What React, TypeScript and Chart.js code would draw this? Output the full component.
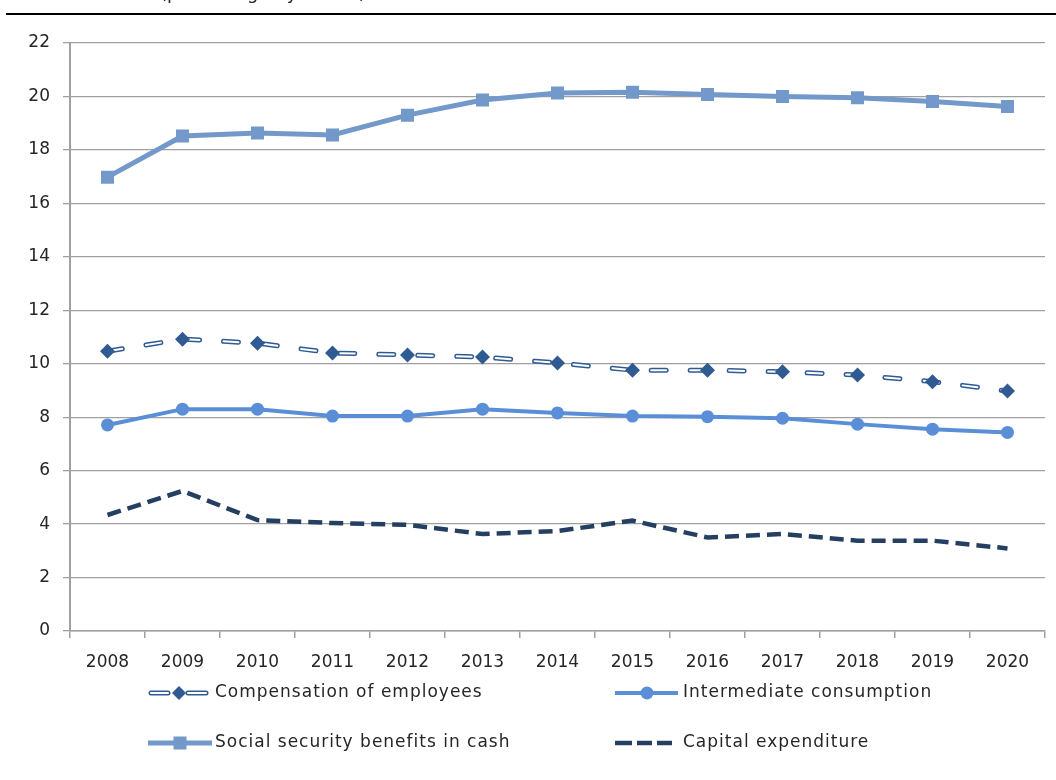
import React, { useEffect, useRef } from "react";
import { Chart, registerables } from "chart.js";

Chart.register(...registerables);

// ---------- data ----------
const years = ["2008", "2009", "2010", "2011", "2012", "2013", "2014", "2015", "2016", "2017", "2018", "2019", "2020"];
const compensationOfEmployees = [10.47, 10.92, 10.77, 10.4, 10.33, 10.25, 10.03, 9.76, 9.76, 9.7, 9.58, 9.33, 8.98];
const intermediateConsumption = [7.71, 8.3, 8.3, 8.04, 8.04, 8.3, 8.16, 8.04, 8.02, 7.96, 7.74, 7.55, 7.43];
const socialSecurityBenefits = [16.98, 18.52, 18.63, 18.56, 19.3, 19.87, 20.13, 20.16, 20.07, 20.0, 19.95, 19.81, 19.62];
const capitalExpenditure = [4.34, 5.24, 4.15, 4.04, 3.97, 3.63, 3.74, 4.13, 3.5, 3.63, 3.38, 3.38, 3.09];
const yMin = 0;
const yMax = 22;
const yStep = 2;
const seriesNames = [
  "Compensation of employees",
  "Intermediate consumption",
  "Social security benefits in cash",
  "Capital expenditure",
];
const subtitle = "(percentage by sector)";

// ---------- styles ----------
const FONT = '"DejaVu Sans", sans-serif';
const TEXT = "#262626";
const C_COMP = "#2F5A92";
const C_INTER = "#5A8FD8";
const C_SOCIAL = "#7398CA";
const C_CAPITAL = "#243F62";
const GRID = "#a0a0a0";

function drawLegend(chart: any) {
  const ctx: CanvasRenderingContext2D = chart.ctx;
  ctx.save();
  // clipped header text + rule
  ctx.font = `18px ${FONT}`;
  ctx.fillStyle = TEXT;
  ctx.textAlign = "left";
  ctx.textBaseline = "alphabetic";
  ctx.fillText(subtitle, 160, -1);
  ctx.fillStyle = "#000";
  ctx.fillRect(6, 13, 1050, 2);

  const rows = [693, 743];
  const cols = [148, 615];

  // 1: compensation (outlined dashes + diamond)
  {
    const x = cols[0];
    const y = rows[0];
    ctx.lineCap = "round";
    ctx.setLineDash([]);
    const segs = [
      [x + 3, x + 20],
      [x + 40, x + 58],
    ];
    for (const [a, b] of segs) {
      ctx.strokeStyle = C_COMP;
      ctx.lineWidth = 5;
      ctx.beginPath();
      ctx.moveTo(a, y);
      ctx.lineTo(b, y);
      ctx.stroke();
      ctx.strokeStyle = "#fff";
      ctx.lineWidth = 2;
      ctx.beginPath();
      ctx.moveTo(a, y);
      ctx.lineTo(b, y);
      ctx.stroke();
    }
    ctx.fillStyle = C_COMP;
    ctx.beginPath();
    const cx = x + 31;
    ctx.moveTo(cx, y - 7);
    ctx.lineTo(cx + 7, y);
    ctx.lineTo(cx, y + 7);
    ctx.lineTo(cx - 7, y);
    ctx.closePath();
    ctx.fill();
  }
  // 2: intermediate (line + circle)
  {
    const x = cols[1];
    const y = rows[0];
    ctx.lineCap = "butt";
    ctx.strokeStyle = C_INTER;
    ctx.lineWidth = 4;
    ctx.beginPath();
    ctx.moveTo(x, y);
    ctx.lineTo(x + 63, y);
    ctx.stroke();
    ctx.fillStyle = C_INTER;
    ctx.beginPath();
    ctx.arc(x + 32, y, 6.5, 0, Math.PI * 2);
    ctx.fill();
  }
  // 3: social (line + square)
  {
    const x = cols[0];
    const y = rows[1];
    ctx.strokeStyle = C_SOCIAL;
    ctx.lineWidth = 5;
    ctx.beginPath();
    ctx.moveTo(x, y);
    ctx.lineTo(x + 64, y);
    ctx.stroke();
    ctx.fillStyle = C_SOCIAL;
    ctx.fillRect(x + 32 - 6.5, y - 6.5, 13, 13);
  }
  // 4: capital (three dashes)
  {
    const x = cols[1];
    const y = rows[1];
    ctx.strokeStyle = C_CAPITAL;
    ctx.lineWidth = 4.5;
    const segs = [
      [x, x + 17],
      [x + 22, x + 37],
      [x + 42, x + 57],
    ];
    for (const [a, b] of segs) {
      ctx.beginPath();
      ctx.moveTo(a, y);
      ctx.lineTo(b, y);
      ctx.stroke();
    }
  }

  // texts
  ctx.fillStyle = TEXT;
  ctx.font = `17px ${FONT}`;
  (ctx as any).letterSpacing = "1px";
  ctx.textBaseline = "middle";
  ctx.fillText(seriesNames[0], cols[0] + 67, rows[0]);
  ctx.fillText(seriesNames[1], cols[1] + 68, rows[0]);
  ctx.fillText(seriesNames[2], cols[0] + 67, rows[1]);
  ctx.fillText(seriesNames[3], cols[1] + 68, rows[1]);
  ctx.restore();
}

const customLegendPlugin = {
  id: "customLegend",
  afterDraw(chart: any) {
    drawLegend(chart);
  },
};

export default function App() {
  const ref = useRef<HTMLCanvasElement | null>(null);

  useEffect(() => {
    document.body.style.margin = "0";
    const canvas = ref.current;
    if (!canvas) return;
    const chart = new Chart(canvas, {
      type: "line",
      data: {
        labels: years,
        datasets: [
          {
            label: seriesNames[0] + " markers",
            data: compensationOfEmployees,
            showLine: false,
            pointStyle: "rectRot",
            pointRadius: 7.5,
            pointBorderWidth: 0,
            pointBackgroundColor: C_COMP,
            borderColor: C_COMP,
            order: 0,
          },
          {
            label: seriesNames[0] + " inner",
            data: compensationOfEmployees,
            borderColor: "#ffffff",
            borderWidth: 2,
            borderDash: [15, 24],
            borderCapStyle: "round",
            pointRadius: 0,
            tension: 0,
            order: 1,
          },
          {
            label: seriesNames[0],
            data: compensationOfEmployees,
            borderColor: C_COMP,
            borderWidth: 5,
            borderDash: [15, 24],
            borderCapStyle: "round",
            pointRadius: 0,
            tension: 0,
            order: 2,
          },
          {
            label: seriesNames[1],
            data: intermediateConsumption,
            borderColor: C_INTER,
            borderWidth: 4,
            pointStyle: "circle",
            pointRadius: 6.5,
            pointBorderWidth: 0,
            pointBackgroundColor: C_INTER,
            tension: 0,
            order: 3,
          },
          {
            label: seriesNames[2],
            data: socialSecurityBenefits,
            borderColor: C_SOCIAL,
            borderWidth: 5,
            pointStyle: "rect",
            pointRadius: 9.2,
            pointBorderWidth: 0,
            pointBackgroundColor: C_SOCIAL,
            tension: 0,
            order: 4,
          },
          {
            label: seriesNames[3],
            data: capitalExpenditure,
            borderColor: C_CAPITAL,
            borderWidth: 4.5,
            borderDash: [14, 7],
            borderCapStyle: "butt",
            pointRadius: 0,
            tension: 0,
            order: 5,
          },
        ],
      },
      options: {
        responsive: false,
        animation: false,
        events: [],
        layout: { padding: { top: 43, right: 11, left: 0, bottom: 0 } },
        plugins: {
          legend: { display: false },
          tooltip: { enabled: false },
          title: { display: false },
        },
        scales: {
          x: {
            offset: true,
            grid: {
              display: true,
              offset: true,
              drawOnChartArea: false,
              drawTicks: true,
              tickLength: 7,
              color: GRID,
              lineWidth: 1.5,
            },
            border: { display: true, color: GRID, width: 1.5 },
            ticks: {
              color: TEXT,
              font: { family: FONT, size: 17 },
              padding: 14,
              maxRotation: 0,
              autoSkip: false,
            },
            afterFit: (scale: any) => {
              scale.height = 149;
            },
          },
          y: {
            min: yMin,
            max: yMax,
            grid: {
              color: GRID,
              lineWidth: 1.3,
              tickLength: 7,
              drawTicks: true,
            },
            border: { display: true, color: GRID, width: 2 },
            ticks: {
              stepSize: yStep,
              color: TEXT,
              font: { family: FONT, size: 17 },
              padding: 13,
            },
            afterFit: (scale: any) => {
              scale.width = 70;
            },
          },
        },
      },
      plugins: [customLegendPlugin],
    });
    return () => chart.destroy();
  }, []);

  return (
    <div style={{ width: 1056, height: 780, background: "#fff" }}>
      <canvas ref={ref} width={1056} height={780} style={{ display: "block" }} />
    </div>
  );
}
